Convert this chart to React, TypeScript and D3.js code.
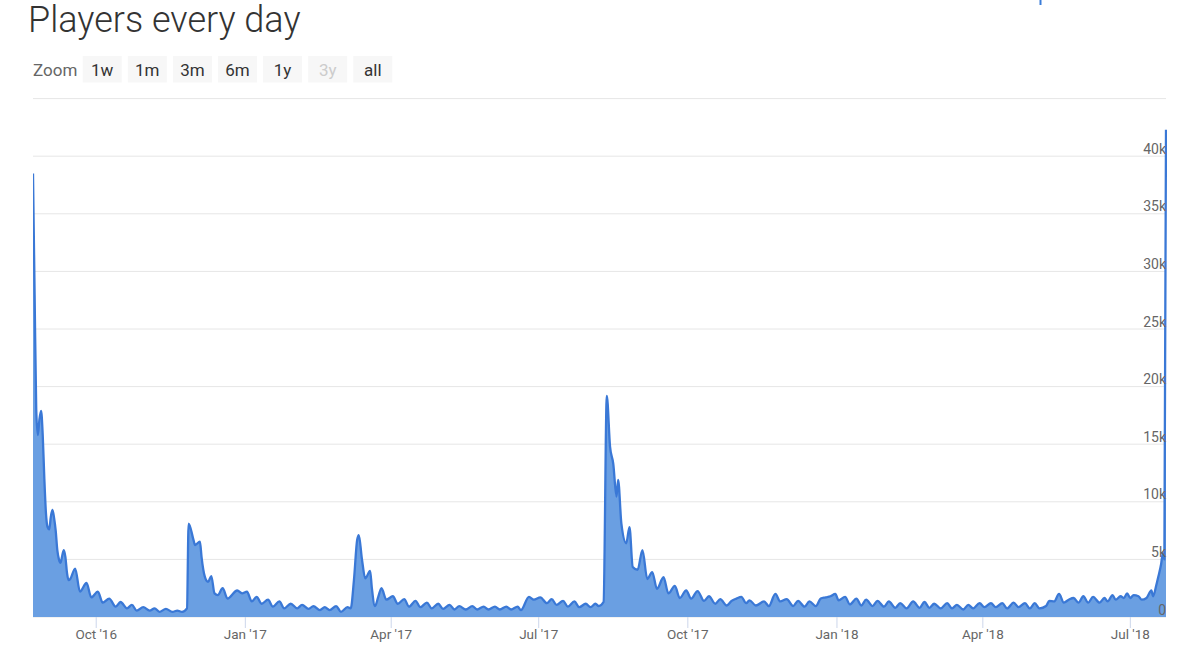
import React from 'react';
import * as d3 from 'd3';

const TITLE = 'Players every day';
const ZOOM_LABEL = 'Zoom';
const ZOOM_BUTTONS = ['1w', '1m', '3m', '6m', '1y', '3y', 'all'];
const DISABLED_BUTTON = '3y';
const START_DATE = '2016-08-23';
const END_DATE = '2018-07-23';
const Y_MAX = 45000;
const Y_GRID = [0, 5000, 10000, 15000, 20000, 25000, 30000, 35000, 40000, 45000];
const Y_LABELED = [0, 5000, 10000, 15000, 20000, 25000, 30000, 35000, 40000];

// days since START_DATE
const dayOffsets = [
  0, 1, 2, 3, 4, 5, 6, 7, 8, 9, 10, 11, 12, 13, 14, 15, 16, 17, 18, 19, 20, 21, 22, 23,
  26, 29, 33, 36, 40, 43, 47, 51, 54, 58, 61, 64, 68, 72, 75, 78, 82, 86, 89, 92, 95,
  96, 99, 100, 103, 104, 106, 108, 110, 112, 114, 117, 120, 126, 129, 132, 135, 138, 141, 145, 148,
  152, 155, 159, 163, 166, 170, 173, 177, 180, 183, 187, 190, 194, 196,
  198, 200, 201, 203, 205, 208, 209, 211, 213, 215, 218, 222, 225, 229, 232, 236, 239, 243, 246,
  250, 253, 257, 260, 263, 267, 271, 274, 278, 281, 285, 288, 292, 295, 299, 301,
  306, 309, 313, 317, 320, 323, 327, 330, 334, 337, 341, 344, 347, 349, 352,
  354, 356, 358, 360, 361, 363, 366, 368, 370, 373, 376, 379, 382, 385, 389, 392, 396, 399,
  403, 406, 410, 414, 417, 421, 424, 428, 431, 434, 437, 440, 442, 446, 451, 454, 458, 461,
  465, 469, 472, 476, 479, 483, 486, 489, 492, 495, 497, 501, 504, 508, 511, 514, 518, 521,
  525, 528, 532, 535, 539, 543, 547, 550, 553, 556, 560, 564, 567, 570, 574, 577, 580, 584,
  587, 591, 594, 598, 601, 605, 608, 612, 615, 618, 621, 625, 627, 630, 633, 636, 639, 642,
  645, 648, 651, 654, 658, 661, 663, 666, 668, 671, 673, 675, 677, 679, 682, 684, 687, 690,
  691, 693, 694, 696, 697, 698, 699,
];

const playerCounts = [
  38500, 28000, 18000, 15800, 17200, 17900, 15800, 12000, 9000, 7800, 7600, 8700, 9300, 8600, 7500, 5800, 5000, 4700, 5300, 5800, 5200, 3800, 3200, 3300,
  4200, 2200, 2950, 1700, 2200, 1250, 1600, 900, 1300, 750, 1050, 550, 850, 550, 750, 450, 700, 450, 550, 450, 750,
  8100, 6700, 6250, 6550, 5200, 3500, 3050, 3550, 2050, 1900, 2500, 1600, 2300, 2050, 2200, 1350, 1750, 1150, 1500, 900,
  1350, 750, 1150, 750, 1050, 700, 950, 600, 850, 600, 950, 450, 850, 750,
  3200, 6700, 7100, 4950, 3350, 4000, 2600, 950, 1750, 2500, 1500, 1800, 1150, 1550, 900, 1400, 850, 1250, 750,
  1150, 700, 1050, 650, 950, 650, 950, 650, 900, 650, 900, 650, 900, 650, 900, 600,
  1750, 1500, 1700, 1200, 1550, 1050, 1400, 900, 1350, 850, 1150, 850, 1150, 950, 1300,
  19200, 14800, 13300, 10450, 11900, 8100, 6400, 7800, 4350, 4100, 5800, 3300, 3900, 2450, 3450, 2050, 2700, 1650,
  2300, 1600, 2250, 1400, 1800, 1150, 1550, 1000, 1400, 1600, 1750, 1200, 1450, 1000, 1350, 950, 2000, 1350,
  1550, 950, 1400, 900, 1350, 950, 1600, 1700, 1800, 2000, 1450, 1750, 1100, 1600, 1000, 1500, 950, 1400,
  900, 1350, 800, 1200, 750, 1350, 800, 1300, 800, 1150, 750, 1200, 750, 1050, 650, 1050, 750, 1200,
  850, 1200, 850, 1200, 750, 1250, 850, 1200, 750, 1200, 750, 950, 1400, 1350, 2000, 1250, 1500, 1650,
  1250, 1800, 1250, 1750, 1250, 1650, 1350, 1900, 1500, 1800, 1650, 2050, 1650, 1900, 1800, 1500, 1650, 2300,
  1800, 2750, 3350, 4600, 5500, 5000, 42300,
];

type Pt = { date: Date; v: number };

export default function App() {
  const W = 1200;
  const H = 660;
  const left = 33;
  const right = 1166;
  const top = 98.6;
  const bottom = 617;
  const font = 'Roboto, "Noto Sans", sans-serif';

  const parse = d3.utcParse('%Y-%m-%d');
  const start = parse(START_DATE) as Date;
  const end = parse(END_DATE) as Date;

  const x = d3.scaleUtc().domain([start, end]).range([left, right]);
  const y = d3.scaleLinear().domain([0, Y_MAX]).range([bottom, top]);

  const data: Pt[] = dayOffsets.map((d, i) => ({ date: d3.utcDay.offset(start, d), v: playerCounts[i] }));

  const area = d3
    .area<Pt>()
    .x((d) => x(d.date))
    .y0(y(0))
    .y1((d) => y(d.v))
    .curve(d3.curveMonotoneX);
  const line = d3
    .line<Pt>()
    .x((d) => x(d.date))
    .y((d) => y(d.v))
    .curve(d3.curveMonotoneX);

  const xTicks = d3.utcMonth.every(3)!.range(start, end);
  const fmt = d3.utcFormat("%b '%y");
  const yFmt = (v: number) => (v === 0 ? '0' : `${v / 1000}k`);

  const btnX0 = 82.7;
  const btnStep = 45.1;
  const btnW = 39;

  return (
    <svg
      width={W}
      height={H}
      style={{ position: 'absolute', left: 0, top: 0, background: '#fff' }}
      fontFamily={font}
    >
      <rect x={0} y={0} width={W} height={H} fill="#fff" />
      {/* fragment of a blue link glyph clipped at the top edge */}
      <line x1={1040.5} x2={1040.5} y1={0} y2={5} stroke="#3b7dd8" strokeWidth={2} />
      <text x={28} y={32} fontSize={36} fontWeight={300} fill="#333">
        {TITLE}
      </text>
      <text x={33} y={75.5} fontSize={17} fill="#666">
        {ZOOM_LABEL}
      </text>
      {ZOOM_BUTTONS.map((b, i) => (
        <g key={b}>
          <rect x={btnX0 + i * btnStep} y={56} width={btnW} height={26.5} fill="#f7f7f7" />
          <text
            x={btnX0 + i * btnStep + btnW / 2}
            y={75.5}
            fontSize={17}
            textAnchor="middle"
            fill={b === DISABLED_BUTTON ? '#cccccc' : '#333'}
          >
            {b}
          </text>
        </g>
      ))}

      <defs>
        <clipPath id="plotClip">
          <rect x={left} y={top - 40} width={right - left + 1} height={bottom - top + 41} />
        </clipPath>
      </defs>

      {Y_GRID.map((v) => (
        <line key={v} x1={left} x2={right} y1={y(v)} y2={y(v)} stroke="#e6e6e6" strokeWidth={1} />
      ))}

      {xTicks.map((t) => (
        <line key={+t} x1={x(t)} x2={x(t)} y1={bottom} y2={bottom + 11} stroke="#ccd6eb" strokeWidth={1} />
      ))}

      <g clipPath="url(#plotClip)">
        <path d={area(data) ?? ''} fill="#6a9fe2" />
        <path d={line(data) ?? ''} fill="none" stroke="#3a78d6" strokeWidth={2.3} strokeLinejoin="round" />
      </g>

      {Y_LABELED.map((v) => (
        <text key={v} x={right} y={y(v) - 2.5} fontSize={14} textAnchor="end" fill="#666">
          {yFmt(v)}
        </text>
      ))}

      {xTicks.map((t) => (
        <text key={+t} x={x(t)} y={639} fontSize={13.5} textAnchor="middle" fill="#666">
          {fmt(t)}
        </text>
      ))}
    </svg>
  );
}
